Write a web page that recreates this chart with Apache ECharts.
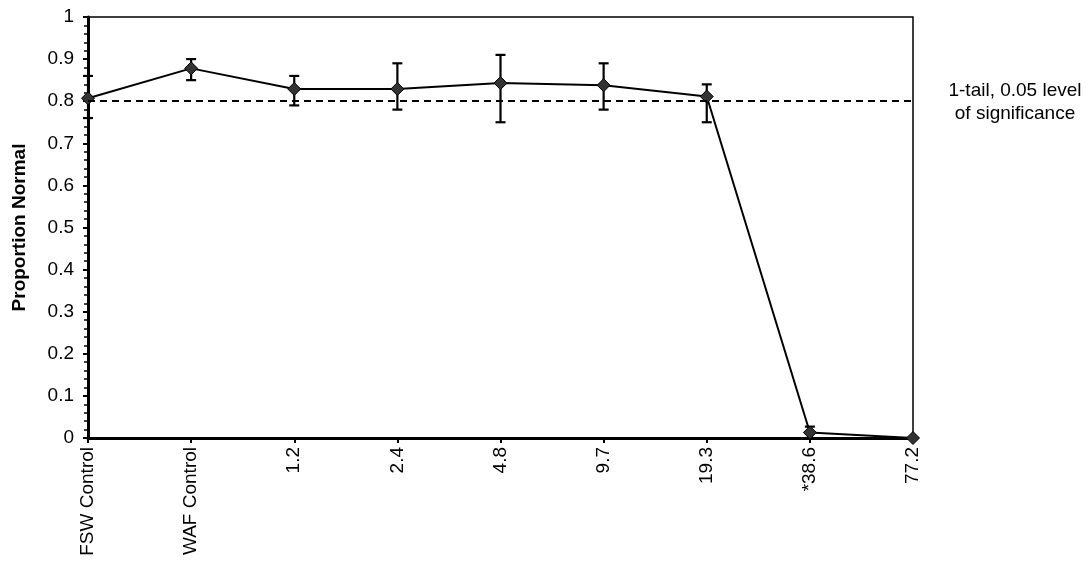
<!DOCTYPE html>
<html>
<head>
<meta charset="utf-8">
<script src="https://cdn.jsdelivr.net/npm/echarts@6/dist/echarts.min.js"></script>
<style>
  html, body { margin: 0; padding: 0; background: #fff; }
  #chart { width: 1091px; height: 565px; }
</style>
</head>
<body>
<div id="chart"></div>
<script>
// Treatment groups (concentrations; * marks a significant difference)
const categories = ['FSW Control', 'WAF Control', '1.2', '2.4', '4.8', '9.7', '19.3', '*38.6', '77.2'];
// Mean proportion of normal larvae per group
const meanNormal = [0.807, 0.878, 0.829, 0.829, 0.843, 0.838, 0.811, 0.013, 0];
// Error bar ends
const upperBound = [0.86, 0.90, 0.86, 0.89, 0.91, 0.89, 0.84, 0.027, 0];
const lowerBound = [0.76, 0.85, 0.79, 0.78, 0.75, 0.78, 0.75, 0.0, 0];
// Threshold line: 1-tail, 0.05 level of significance
const significanceLevel = 0.8;
const significanceText = ['1-tail, 0.05 level', 'of significance'];

const FONT = '"Liberation Sans", Arial, sans-serif';
const FONT_SIZE = 19;

const errorData = categories.map((c, i) => [i, lowerBound[i], upperBound[i]]);

const chart = echarts.init(document.getElementById('chart'), null, { renderer: 'canvas' });

chart.setOption({
  animation: false,
  backgroundColor: '#fff',
  grid: {
    left: 88, right: 178, top: 17, bottom: 127,
    show: true, borderColor: '#000', borderWidth: 1.5, backgroundColor: 'transparent'
  },
  xAxis: {
    type: 'category',
    data: categories,
    boundaryGap: false,
    axisLine: { lineStyle: { color: '#000', width: 3 } },
    axisTick: { show: true, length: 5, lineStyle: { color: '#000', width: 2 } },
    axisLabel: { rotate: 90, color: '#000', fontFamily: FONT, fontSize: FONT_SIZE, margin: 9, interval: 0 },
    splitLine: { show: false }
  },
  yAxis: {
    type: 'value',
    min: 0, max: 1, interval: 0.1,
    name: 'Proportion Normal',
    nameLocation: 'middle',
    nameGap: 59,
    nameRotate: 90,
    nameTextStyle: { color: '#000', fontFamily: FONT, fontSize: FONT_SIZE, fontWeight: 'bold' },
    axisLine: { show: true, lineStyle: { color: '#000', width: 3 } },
    axisTick: { show: true, length: 5, lineStyle: { color: '#000', width: 2 } },
    minorTick: { show: true, splitNumber: 5, length: 4, lineStyle: { color: '#000', width: 1.5 } },
    axisLabel: {
      color: '#000', fontFamily: FONT, fontSize: FONT_SIZE, margin: 14,
      formatter: v => String(Math.round(v * 10) / 10)
    },
    splitLine: { show: false },
    minorSplitLine: { show: false }
  },
  series: [
    {
      type: 'custom',
      name: 'error',
      z: 2,
      clip: false,
      data: errorData,
      renderItem: function (params, api) {
        const idx = api.value(0);
        const lo = api.value(1);
        const hi = api.value(2);
        if (hi === lo) return null;
        const top = api.coord([idx, hi]);
        const bot = api.coord([idx, lo]);
        const half = 5;
        const style = { stroke: '#000', lineWidth: 2.2 };
        return {
          type: 'group',
          children: [
            { type: 'line', shape: { x1: top[0], y1: top[1], x2: bot[0], y2: bot[1] }, style },
            { type: 'line', shape: { x1: top[0] - half, y1: top[1], x2: top[0] + half, y2: top[1] }, style },
            { type: 'line', shape: { x1: bot[0] - half, y1: bot[1], x2: bot[0] + half, y2: bot[1] }, style }
          ]
        };
      }
    },
    {
      type: 'line',
      name: 'Proportion Normal',
      z: 3,
      clip: false,
      data: meanNormal,
      symbol: 'diamond',
      symbolSize: 13,
      itemStyle: { color: '#333', borderColor: '#000', borderWidth: 1 },
      lineStyle: { color: '#000', width: 2 },
      markLine: {
        silent: true,
        symbol: 'none',
        label: { show: false },
        lineStyle: { color: '#000', width: 2, type: [7, 5] },
        data: [{ yAxis: significanceLevel }]
      }
    }
  ],
  graphic: [
    {
      type: 'text',
      x: 1015, y: 79,
      style: {
        text: significanceText.join('\n'),
        fontFamily: FONT, fontSize: FONT_SIZE, fill: '#000',
        align: 'center', verticalAlign: 'top', lineHeight: 23
      }
    }
  ]
});
</script>
</body>
</html>
